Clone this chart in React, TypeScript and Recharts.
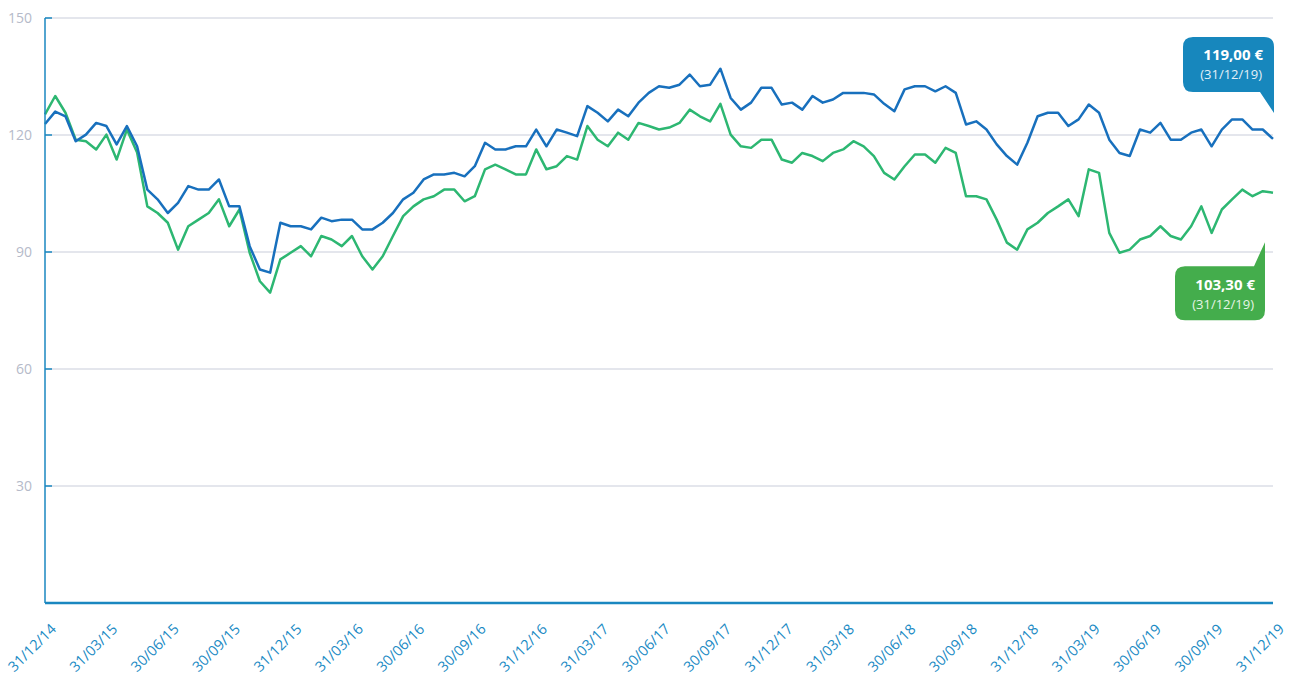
import { LineChart, Line, XAxis, YAxis, CartesianGrid, ReferenceDot } from 'recharts';

// quarter-end labels, one every 6 samples
const quarterLabels = [
  '31/12/14', '31/03/15', '30/06/15', '30/09/15', '31/12/15', '31/03/16', '30/06/16',
  '30/09/16', '31/12/16', '31/03/17', '30/06/17', '30/09/17', '31/12/17', '31/03/18',
  '30/06/18', '30/09/18', '31/12/18', '31/03/19', '30/06/19', '30/09/19', '31/12/19',
];

const yTicks = [30, 60, 90, 120, 150];

// roughly bi-weekly samples
const blueValues = [
  122.8, 126, 124.8, 118.4, 120.1, 123.1, 122.3, 117.6, 122.3, 117.1,
  106, 103.5, 100, 102.6, 106.9, 106, 106, 108.6, 101.7, 101.7,
  91.5, 85.5, 84.7, 97.5, 96.6, 96.6, 95.8, 98.8, 97.9, 98.3,
  98.3, 95.8, 95.8, 97.5, 100, 103.5, 105.2, 108.6, 109.9, 109.9,
  110.3, 109.4, 112, 118, 116.3, 116.3, 117.1, 117.1, 121.4, 117.1,
  121.4, 120.6, 119.7, 127.4, 125.7, 123.5, 126.5, 124.8, 128.3, 130.8,
  132.5, 132.1, 132.9, 135.5, 132.5, 132.9, 137, 129.5, 126.5, 128.3,
  132.1, 132.1, 127.8, 128.3, 126.5, 130, 128.3, 129.1, 130.8, 130.8,
  130.8, 130.4, 128, 126.1, 131.7, 132.5, 132.5, 131.2, 132.5, 130.8,
  122.7, 123.5, 121.4, 117.6, 114.6, 112.4, 118, 124.8, 125.7, 125.7,
  122.3, 124, 127.8, 125.7, 118.8, 115.4, 114.6, 121.4, 120.6, 123.1,
  118.8, 118.8, 120.6, 121.4, 117.1, 121.4, 124, 124, 121.4, 121.4,
  119,
];

const greenValues = [
  125.3, 130, 125.7, 118.8, 118.4, 116.3, 120.1, 113.7, 121.4, 115.5,
  101.7, 100, 97.5, 90.6, 96.6, 98.3, 100, 103.5, 96.6, 100.9,
  89.8, 82.5, 79.6, 88.1, 89.8, 91.5, 88.9, 94.1, 93.2, 91.5,
  94.1, 88.9, 85.5, 88.9, 94.1, 99.2, 101.7, 103.5, 104.3, 106,
  106, 103, 104.3, 111.2, 112.4, 111.2, 109.9, 109.9, 116.3, 111.2,
  112, 114.6, 113.7, 122.3, 118.8, 117.1, 120.6, 118.8, 123.1, 122.3,
  121.4, 121.9, 123.1, 126.5, 124.8, 123.5, 128, 120.1, 117.1, 116.7,
  118.8, 118.8, 113.7, 112.9, 115.4, 114.6, 113.3, 115.4, 116.3, 118.4,
  117.1, 114.6, 110.3, 108.6, 112, 115, 115, 112.9, 116.7, 115.4,
  104.3, 104.3, 103.5, 98.3, 92.4, 90.6, 95.8, 97.5, 100, 101.7,
  103.5, 99.2, 111.2, 110.3, 94.9, 89.8, 90.6, 93.2, 94.1, 96.6,
  94.1, 93.2, 96.6, 101.7, 94.9, 100.9, 103.5, 106, 104.3, 105.6,
  105.2,
];

const blueLast = { value: 119, text: '119,00 €', date: '(31/12/19)' };
const greenLast = { value: 103.3, text: '103,30 €', date: '(31/12/19)' };

const data = blueValues.map((b, i) => ({ i, blue: b, green: greenValues[i] }));
const xTicks = quarterLabels.map((_, q) => q * 6);

const FONT = '"Open Sans", "DejaVu Sans", sans-serif';
const AXIS_BLUE = '#1a87c0';

const YTick = (props: any) => {
  const { x, y, payload } = props;
  return (
    <g>
      <text x={x} y={y} dy={5} textAnchor="end" fill="#b5bac9" fontSize={14} fontFamily={FONT}>
        {payload.value}
      </text>
      <line x1={x + 13} x2={x + 20} y1={y} y2={y} stroke={AXIS_BLUE} strokeWidth={1.5} />
    </g>
  );
};

const XTick = (props: any) => {
  const { x, payload } = props;
  const ax = x + 12;
  const ay = 630;
  return (
    <text
      x={ax}
      y={ay}
      textAnchor="end"
      fill="#1a8ac4"
      fontSize={14.5}
      fontFamily={FONT}
      transform={`rotate(-45, ${ax}, ${ay})`}
    >
      {quarterLabels[Math.round(payload.value / 6)]}
    </text>
  );
};

const BlueCallout = (props: any) => {
  const { cx, cy } = props;
  const r = cx + 1;
  const l = r - 91;
  const top = cy - 102;
  const bot = cy - 47;
  const tipY = cy - 26;
  const d = `M${l + 10},${top} H${r - 10} Q${r},${top} ${r},${top + 10} V${tipY} L${r - 14},${bot} H${l + 10} Q${l},${bot} ${l},${bot - 10} V${top + 10} Q${l},${top} ${l + 10},${top} Z`;
  return (
    <g>
      <path d={d} fill="#1787bd" />
      <text x={r - 11} y={top + 23} textAnchor="end" fill="#fff" fontSize={15} fontWeight={700} fontFamily={FONT}>
        {blueLast.text}
      </text>
      <text x={r - 12} y={top + 42} textAnchor="end" fill="#e3f0f8" fontSize={13} fontFamily={FONT}>
        {blueLast.date}
      </text>
    </g>
  );
};

const GreenCallout = (props: any) => {
  const { cx, cy } = props;
  const r = cx - 8;
  const l = r - 90;
  const top = cy + 66;
  const bot = cy + 120;
  const tipY = cy + 42;
  const d = `M${l + 10},${top} H${r - 11} L${r},${tipY} V${bot - 10} Q${r},${bot} ${r - 10},${bot} H${l + 10} Q${l},${bot} ${l},${bot - 10} V${top + 10} Q${l},${top} ${l + 10},${top} Z`;
  return (
    <g>
      <path d={d} fill="#44ad4c" />
      <text x={r - 10} y={top + 24} textAnchor="end" fill="#fff" fontSize={15} fontWeight={700} fontFamily={FONT}>
        {greenLast.text}
      </text>
      <text x={r - 11} y={top + 43} textAnchor="end" fill="#e6f5e7" fontSize={13} fontFamily={FONT}>
        {greenLast.date}
      </text>
    </g>
  );
};

export default function App() {
  return (
    <div style={{ position: 'absolute', left: 0, top: 0, background: '#fff' }}>
      <LineChart width={1293} height={679} data={data} margin={{ top: 18, right: 20, bottom: 0, left: 0 }}>
        <CartesianGrid vertical={false} stroke="#c9cdda" strokeWidth={1} />
        <XAxis
          type="number"
          dataKey="i"
          domain={[0, 120]}
          ticks={xTicks}
          interval={0}
          height={76}
          tick={<XTick />}
          tickLine={false}
          axisLine={{ stroke: AXIS_BLUE, strokeWidth: 2.5 }}
        />
        <YAxis
          domain={[0, 150]}
          ticks={yTicks}
          width={45}
          tick={<YTick />}
          tickSize={0}
          tickMargin={13}
          tickLine={false}
          axisLine={{ stroke: AXIS_BLUE, strokeWidth: 1.5 }}
        />
        <Line
          type="linear"
          dataKey="green"
          stroke="#2db772"
          strokeWidth={2.5}
          strokeLinejoin="round"
          dot={false}
          isAnimationActive={false}
        />
        <Line
          type="linear"
          dataKey="blue"
          stroke="#1870bd"
          strokeWidth={2.5}
          strokeLinejoin="round"
          dot={false}
          isAnimationActive={false}
        />
        <ReferenceDot x={120} y={blueLast.value} r={0} ifOverflow="visible" shape={<BlueCallout />} />
        <ReferenceDot x={120} y={greenLast.value} r={0} ifOverflow="visible" shape={<GreenCallout />} />
      </LineChart>
    </div>
  );
}
